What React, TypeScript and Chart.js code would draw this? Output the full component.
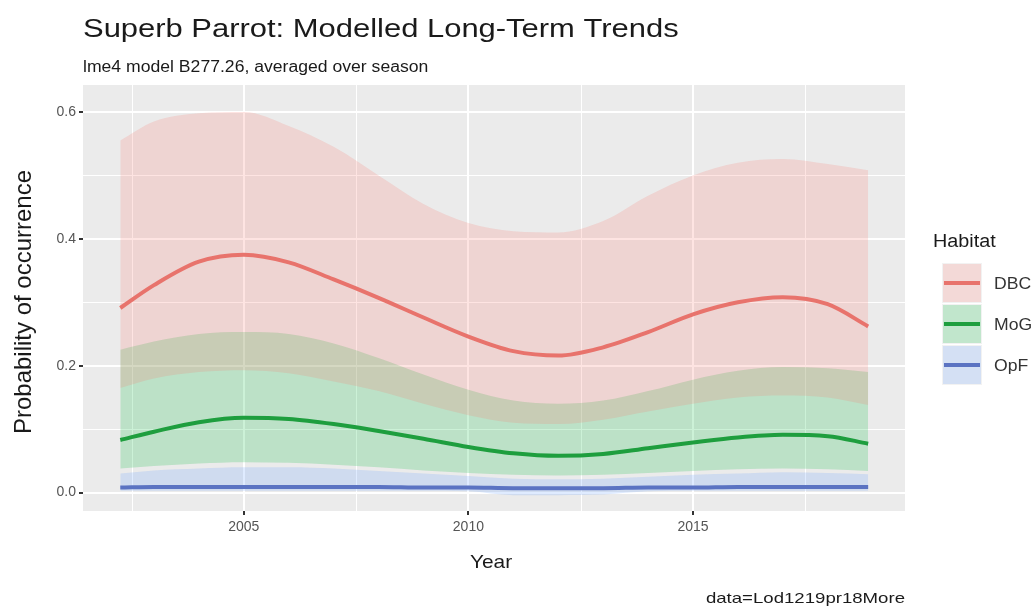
import React, { useEffect, useRef } from "react";
import { Chart, registerables } from "chart.js";

Chart.register(...registerables);

const years = [2002.25, 2003, 2004, 2005, 2006, 2007, 2008, 2009, 2010, 2011, 2012, 2013, 2014, 2015, 2016, 2017, 2018, 2018.9];

const dbcFit = [0.291, 0.327, 0.364, 0.375, 0.363, 0.336, 0.307, 0.276, 0.246, 0.223, 0.216, 0.229, 0.253, 0.281, 0.300, 0.308, 0.297, 0.262];
const dbcUpper = [0.555, 0.585, 0.598, 0.600, 0.578, 0.545, 0.500, 0.455, 0.425, 0.412, 0.410, 0.428, 0.468, 0.500, 0.520, 0.526, 0.518, 0.508];
const dbcLower = [0.165, 0.180, 0.190, 0.193, 0.188, 0.175, 0.160, 0.140, 0.122, 0.110, 0.108, 0.115, 0.128, 0.140, 0.150, 0.153, 0.150, 0.138];

const mogFit = [0.083, 0.096, 0.111, 0.118, 0.116, 0.108, 0.097, 0.085, 0.072, 0.062, 0.058, 0.061, 0.070, 0.079, 0.087, 0.091, 0.089, 0.077];
const mogUpper = [0.225, 0.238, 0.250, 0.253, 0.250, 0.235, 0.212, 0.186, 0.162, 0.145, 0.140, 0.145, 0.160, 0.178, 0.192, 0.198, 0.196, 0.190];
const mogLower = [0.038, 0.042, 0.046, 0.048, 0.047, 0.044, 0.040, 0.035, 0.031, 0.028, 0.027, 0.028, 0.031, 0.034, 0.037, 0.038, 0.037, 0.034];

const opfFit = [0.008, 0.009, 0.009, 0.009, 0.009, 0.009, 0.009, 0.008, 0.008, 0.007, 0.007, 0.007, 0.008, 0.008, 0.009, 0.009, 0.009, 0.009];
const opfUpper = [0.030, 0.035, 0.038, 0.040, 0.040, 0.038, 0.034, 0.030, 0.026, 0.022, 0.021, 0.022, 0.025, 0.028, 0.030, 0.032, 0.031, 0.029];
const opfLower = [0.003, 0.003, 0.003, 0.003, 0.003, 0.003, 0.003, 0.003, 0.002, -0.004, -0.004, -0.003, 0.002, 0.003, 0.003, 0.003, 0.003, 0.003];

const habitats = ["DBC", "MoG", "OpF"];
const xTicks = [2005, 2010, 2015];
const xMinor = [2002.5, 2007.5, 2012.5, 2017.5];
const yTicks = [0, 0.2, 0.4, 0.6];
const yMinor = [0.1, 0.3, 0.5];

const titleText = "Superb Parrot: Modelled Long-Term Trends";
const subtitleText = "lme4 model B277.26, averaged over season";
const xTitle = "Year";
const yTitle = "Probability of occurrence";
const legendTitle = "Habitat";
const captionText = "data=Lod1219pr18More";

const lineColors = ["#E8736C", "#1E9E3E", "#5B73C2"];
const fillColors = ["rgba(248,118,109,0.2)", "rgba(0,186,56,0.2)", "rgba(97,156,255,0.2)"];

const FONT = "'Liberation Sans', Arial, sans-serif";

function pts(vals: number[]) {
  return years.map((x, i) => ({ x, y: vals[i] }));
}

function drawText(ctx: CanvasRenderingContext2D, text: string, x: number, y: number, size: number, sx: number, color: string, align: CanvasTextAlign = "left") {
  ctx.save();
  ctx.font = `${size}px ${FONT}`;
  ctx.fillStyle = color;
  ctx.textBaseline = "alphabetic";
  ctx.textAlign = align;
  ctx.translate(x, y);
  ctx.scale(sx, 1);
  ctx.fillText(text, 0, 0);
  ctx.restore();
}

export default function App() {
  const ref = useRef<HTMLCanvasElement | null>(null);
  useEffect(() => {
    if (!ref.current) return;
    const groups = [
      [dbcFit, dbcUpper, dbcLower],
      [mogFit, mogUpper, mogLower],
      [opfFit, opfUpper, opfLower],
    ];
    const datasets: any[] = [];
    groups.forEach((g, i) => {
      datasets.push({
        label: habitats[i],
        data: pts(g[0]),
        borderColor: lineColors[i],
        borderWidth: 4,
        pointRadius: 0,
        fill: false,
        cubicInterpolationMode: "monotone",
      });
    });
    groups.forEach((g, i) => {
      const upperIndex = datasets.length;
      datasets.push({
        label: habitats[i] + " upper",
        data: pts(g[1]),
        borderWidth: 0,
        borderColor: "rgba(0,0,0,0)",
        backgroundColor: fillColors[i],
        pointRadius: 0,
        fill: { target: upperIndex + 1 },
        cubicInterpolationMode: "monotone",
      });
      datasets.push({
        label: habitats[i] + " lower",
        data: pts(g[2]),
        borderWidth: 0,
        borderColor: "rgba(0,0,0,0)",
        pointRadius: 0,
        fill: false,
        cubicInterpolationMode: "monotone",
      });
    });

    const decor = {
      id: "decor",
      beforeDraw(chart: any) {
        const ctx = chart.ctx as CanvasRenderingContext2D;
        const a = chart.chartArea;
        ctx.save();
        ctx.fillStyle = "#FFFFFF";
        ctx.fillRect(0, 0, chart.width, chart.height);
        ctx.fillStyle = "#EBEBEB";
        ctx.fillRect(a.left, a.top, a.right - a.left, a.bottom - a.top);
        const xs = chart.scales.x;
        const ys = chart.scales.y;
        ctx.strokeStyle = "#FFFFFF";
        ctx.lineWidth = 1;
        xMinor.forEach((v) => {
          const px = Math.round(xs.getPixelForValue(v)) + 0.5;
          ctx.beginPath();
          ctx.moveTo(px, a.top);
          ctx.lineTo(px, a.bottom);
          ctx.stroke();
        });
        yMinor.forEach((v) => {
          const py = Math.round(ys.getPixelForValue(v)) + 0.5;
          ctx.beginPath();
          ctx.moveTo(a.left, py);
          ctx.lineTo(a.right, py);
          ctx.stroke();
        });
        ctx.restore();
      },
      afterDraw(chart: any) {
        const ctx = chart.ctx as CanvasRenderingContext2D;
        const a = chart.chartArea;
        drawText(ctx, titleText, a.left, 37, 26, 1.19, "#1A1A1A");
        drawText(ctx, subtitleText, a.left, 72, 16, 1.1, "#1A1A1A");
        drawText(ctx, xTitle, (a.left + a.right) / 2 - 3, 568, 19, 1.1, "#1A1A1A", "center");
        drawText(ctx, captionText, a.right, 603, 15, 1.24, "#1A1A1A", "right");
        ctx.save();
        ctx.translate(31, (a.top + a.bottom) / 2 + 4);
        ctx.rotate(-Math.PI / 2);
        ctx.font = `24px ${FONT}`;
        ctx.fillStyle = "#1A1A1A";
        ctx.textAlign = "center";
        ctx.textBaseline = "alphabetic";
        ctx.fillText(yTitle, 0, 0);
        ctx.restore();
        drawText(ctx, legendTitle, 933, 247, 18, 1.1, "#1A1A1A");
        const kx = 942, kw = 40, kh = 40, ky0 = 263;
        habitats.forEach((h, i) => {
          const ky = ky0 + i * (kh + 1);
          ctx.save();
          ctx.fillStyle = "#F2F2F2";
          ctx.fillRect(kx, ky, kw, kh);
          ctx.fillStyle = fillColors[i];
          ctx.fillRect(kx + 1, ky + 1, kw - 2, kh - 2);
          ctx.strokeStyle = lineColors[i];
          ctx.lineWidth = 4;
          ctx.beginPath();
          ctx.moveTo(kx + 2, ky + kh / 2);
          ctx.lineTo(kx + kw - 2, ky + kh / 2);
          ctx.stroke();
          ctx.restore();
          drawText(ctx, h, 994, ky + kh / 2 + 6, 16, 1.1, "#333333");
        });
      },
    };

    const chart = new Chart(ref.current, {
      type: "line",
      data: { datasets },
      options: {
        animation: false,
        responsive: false,
        events: [],
        layout: { padding: { left: 38, right: 130, top: 85, bottom: 73 } },
        plugins: {
          legend: { display: false },
          tooltip: { enabled: false },
          filler: { drawTime: "beforeDatasetsDraw" },
        },
        scales: {
          x: {
            type: "linear",
            min: 2001.42,
            max: 2019.72,
            afterFit: (s: any) => { s.height = 30; },
            afterBuildTicks: (s: any) => { s.ticks = xTicks.map((v) => ({ value: v })); },
            border: { display: false },
            grid: { color: "#FFFFFF", lineWidth: 2, tickColor: "#333333", tickLength: 4 },
            ticks: {
              font: { family: "'Liberation Sans', Arial, sans-serif", size: 14 },
              color: "#555555",
              padding: 4,
              maxRotation: 0,
              callback: (v: any) => String(v),
            },
          },
          y: {
            type: "linear",
            min: -0.029,
            max: 0.6425,
            afterFit: (s: any) => { s.width = 45; },
            afterBuildTicks: (s: any) => { s.ticks = yTicks.map((v) => ({ value: v })); },
            border: { display: false },
            grid: { color: "#FFFFFF", lineWidth: 2, tickColor: "#333333", tickLength: 4 },
            ticks: {
              font: { family: "'Liberation Sans', Arial, sans-serif", size: 14 },
              color: "#555555",
              padding: 3,
              callback: (v: any) => Number(v).toFixed(1),
            },
          },
        },
      },
      plugins: [decor],
    });
    return () => chart.destroy();
  }, []);
  return (
    <div style={{ position: "absolute", left: 0, top: 0, width: 1035, height: 614 }}>
      <canvas ref={ref} width={1035} height={614} style={{ display: "block" }} />
    </div>
  );
}
